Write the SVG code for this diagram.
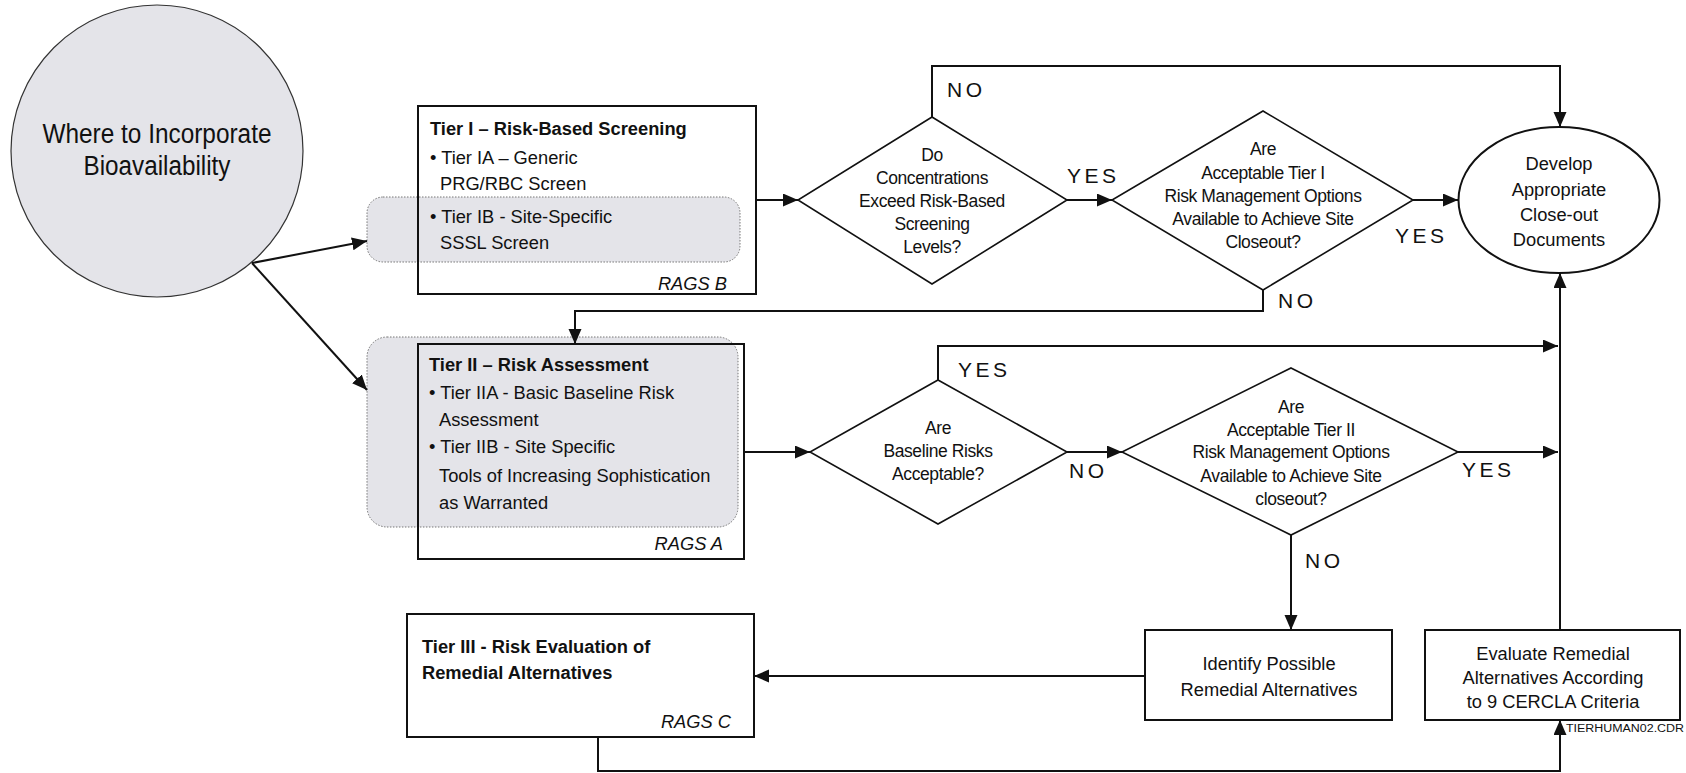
<svg xmlns="http://www.w3.org/2000/svg" width="1686" height="773" viewBox="0 0 1686 773">
<defs>
<marker id="ah" markerUnits="userSpaceOnUse" markerWidth="16" markerHeight="14" refX="15" refY="6.5" orient="auto">
<path d="M0,0 L15,6.5 L0,13 z" fill="#111"/>
</marker>
<style>
text{font-family:"Liberation Sans",Arial,sans-serif;fill:#111}
.t{font-size:18.3px}
.b{font-weight:bold}
.i{font-style:italic;text-anchor:end}
.c{text-anchor:middle}
.d{font-size:17.5px;letter-spacing:-0.4px;text-anchor:middle}
.lbl{font-size:21px;letter-spacing:3.5px}
.box{fill:none;stroke:#111;stroke-width:2}
.wbox{fill:#fff;stroke:#111;stroke-width:2}
.dia{fill:#fff;stroke:#111;stroke-width:1.6}
.gray{fill:#e4e4e9;stroke:#777;stroke-width:1;stroke-dasharray:1.5 1.5}
.con{fill:none;stroke:#111;stroke-width:2}
</style>
</defs>
<rect width="1686" height="773" fill="#fff"/>

<g id="start">
<circle cx="157" cy="151" r="146" fill="#e4e4e9" stroke="#333" stroke-width="1.2"/>
<text class="c" x="157" y="143" font-size="27" textLength="229" lengthAdjust="spacingAndGlyphs">Where to Incorporate</text>
<text class="c" x="157" y="175" font-size="27" textLength="147" lengthAdjust="spacingAndGlyphs">Bioavailability</text>
</g>

<g id="tier1">
<rect class="gray" x="367" y="197" width="373" height="65" rx="16"/>
<rect class="box" x="418" y="106" width="338" height="188"/>
<text class="t b" x="430" y="135">Tier I – Risk-Based Screening</text>
<text class="t" x="430" y="164">• Tier IA – Generic</text>
<text class="t" x="440" y="190">PRG/RBC Screen</text>
<text class="t" x="430" y="223">• Tier IB - Site-Specific</text>
<text class="t" x="440" y="249">SSSL Screen</text>
<text class="t i" x="727" y="290">RAGS B</text>
</g>

<g id="tier2">
<rect class="gray" x="367" y="337" width="371" height="190" rx="20"/>
<rect class="box" x="418" y="344" width="326" height="215"/>
<text class="t b" x="429" y="371">Tier II – Risk Assessment</text>
<text class="t" x="429" y="399">• Tier IIA - Basic Baseline Risk</text>
<text class="t" x="439" y="426">Assessment</text>
<text class="t" x="429" y="453">• Tier IIB - Site Specific</text>
<text class="t" x="439" y="482">Tools of Increasing Sophistication</text>
<text class="t" x="439" y="509">as Warranted</text>
<text class="t i" x="723" y="550">RAGS A</text>
</g>

<g id="tier3">
<rect class="box" x="407" y="614" width="347" height="123"/>
<text class="t b" x="422" y="653">Tier III - Risk Evaluation of</text>
<text class="t b" x="422" y="679">Remedial Alternatives</text>
<text class="t i" x="731" y="728">RAGS C</text>
</g>

<g id="d1">
<polygon class="dia" points="932,117 1067,200 932,284 798,200"/>
<text class="d" x="932" y="161">Do</text>
<text class="d" x="932" y="184">Concentrations</text>
<text class="d" x="932" y="207">Exceed Risk-Based</text>
<text class="d" x="932" y="230">Screening</text>
<text class="d" x="932" y="253">Levels?</text>
</g>

<g id="d2">
<polygon class="dia" points="1263,111 1413,200 1263,290 1112,200"/>
<text class="d" x="1263" y="155">Are</text>
<text class="d" x="1263" y="179">Acceptable Tier I</text>
<text class="d" x="1263" y="202">Risk Management Options</text>
<text class="d" x="1263" y="225">Available to Achieve Site</text>
<text class="d" x="1263" y="248">Closeout?</text>
</g>

<g id="closeout">
<ellipse cx="1559" cy="200" rx="100.5" ry="73" fill="#fff" stroke="#111" stroke-width="2"/>
<text class="t c" x="1559" y="170">Develop</text>
<text class="t c" x="1559" y="196">Appropriate</text>
<text class="t c" x="1559" y="221">Close-out</text>
<text class="t c" x="1559" y="246">Documents</text>
</g>

<g id="d3">
<polygon class="dia" points="938,380 1067,452 938,524 810,452"/>
<text class="d" x="938" y="434">Are</text>
<text class="d" x="938" y="457">Baseline Risks</text>
<text class="d" x="938" y="480">Acceptable?</text>
</g>

<g id="d4">
<polygon class="dia" points="1291,368 1458,452 1291,535 1122,452"/>
<text class="d" x="1291" y="413">Are</text>
<text class="d" x="1291" y="436">Acceptable Tier II</text>
<text class="d" x="1291" y="458">Risk Management Options</text>
<text class="d" x="1291" y="482">Available to Achieve Site</text>
<text class="d" x="1291" y="505">closeout?</text>
</g>

<g id="identify">
<rect class="box" x="1145" y="630" width="247" height="90"/>
<text class="t c" x="1269" y="670">Identify Possible</text>
<text class="t c" x="1269" y="696">Remedial Alternatives</text>
</g>

<g id="evaluate">
<rect class="box" x="1425" y="630" width="255" height="90"/>
<text class="t c" x="1553" y="660">Evaluate Remedial</text>
<text class="t c" x="1553" y="684">Alternatives According</text>
<text class="t c" x="1553" y="708">to 9 CERCLA Criteria</text>
</g>

<g id="connectors">
<line class="con" x1="252" y1="263" x2="367" y2="241" marker-end="url(#ah)"/>
<line class="con" x1="252" y1="263" x2="367" y2="390" marker-end="url(#ah)"/>
<line class="con" x1="756" y1="200" x2="798" y2="200" marker-end="url(#ah)"/>
<polyline class="con" points="932,117 932,66 1560,66 1560,127" marker-end="url(#ah)"/>
<line class="con" x1="1067" y1="200" x2="1112" y2="200" marker-end="url(#ah)"/>
<line class="con" x1="1413" y1="200" x2="1458" y2="200" marker-end="url(#ah)"/>
<polyline class="con" points="1263,290 1263,311 575,311 575,344" marker-end="url(#ah)"/>
<line class="con" x1="744" y1="452" x2="810" y2="452" marker-end="url(#ah)"/>
<polyline class="con" points="938,380 938,346 1558,346" marker-end="url(#ah)"/>
<line class="con" x1="1067" y1="452" x2="1122" y2="452" marker-end="url(#ah)"/>
<line class="con" x1="1458" y1="452" x2="1558" y2="452" marker-end="url(#ah)"/>
<line class="con" x1="1291" y1="535" x2="1291" y2="630" marker-end="url(#ah)"/>
<line class="con" x1="1145" y1="676" x2="754" y2="676" marker-end="url(#ah)"/>
<polyline class="con" points="598,737 598,771 1560,771 1560,720" marker-end="url(#ah)"/>
<line class="con" x1="1560" y1="630" x2="1560" y2="273" marker-end="url(#ah)"/>
</g>

<g id="labels">
<text class="lbl" x="947" y="97">NO</text>
<text class="lbl" x="1067" y="183">YES</text>
<text class="lbl" x="1395" y="243">YES</text>
<text class="lbl" x="1278" y="308">NO</text>
<text class="lbl" x="958" y="377">YES</text>
<text class="lbl" x="1069" y="478">NO</text>
<text class="lbl" x="1462" y="477">YES</text>
<text class="lbl" x="1305" y="568">NO</text>
<text x="1566" y="732" font-size="10" textLength="118" lengthAdjust="spacingAndGlyphs">TIERHUMAN02.CDR</text>
</g>
</svg>
